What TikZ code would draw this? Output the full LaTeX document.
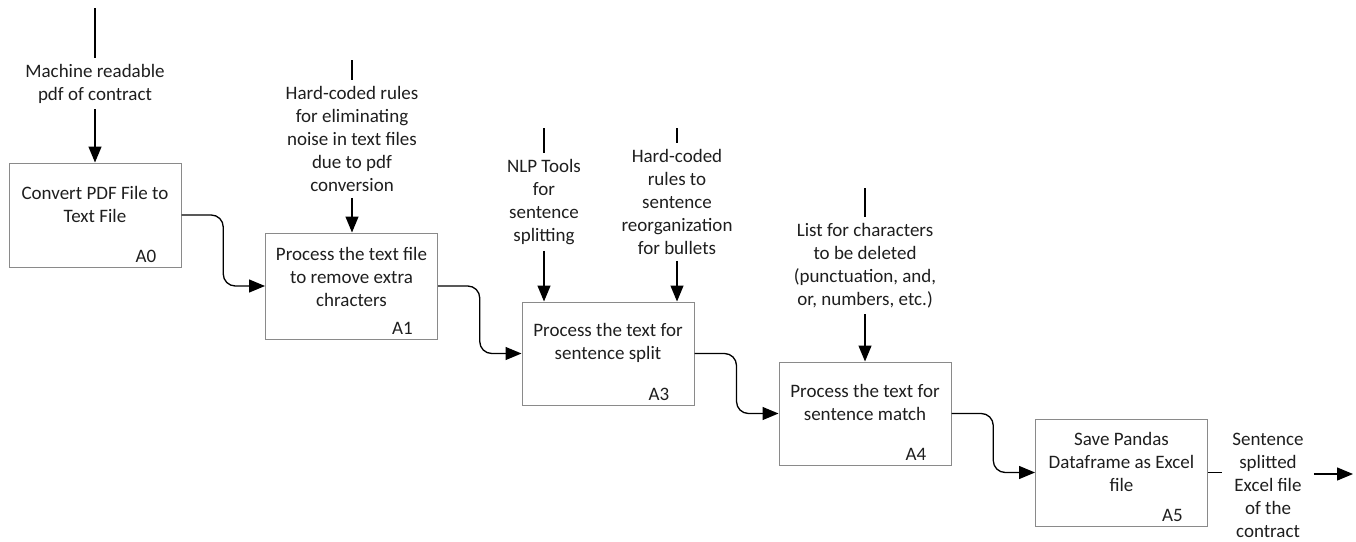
\documentclass[tikz,border=0pt]{standalone}
\usepackage{fontspec}
\setmainfont{Carlito}
\usetikzlibrary{arrows.meta,calc}
\definecolor{boxline}{HTML}{8A8A8A}
\definecolor{ink}{HTML}{1E1E1E}
\begin{document}
\begin{tikzpicture}[x=1pt,y=-1pt,
  font=\fontsize{19}{23}\selectfont,
  box/.style={draw=boxline,line width=1pt,minimum width=172pt,inner sep=0pt},
  boxtext/.style={align=center,text=ink,inner sep=0pt},
  tag/.style={anchor=east,text=ink,inner sep=0pt},
  lbl/.style={align=center,text=ink,inner xsep=10pt,inner ysep=6pt},
  feed/.style={draw=black,line width=1.3pt},
  flow/.style={feed,-{Triangle[length=16pt,width=13pt]}},
  stepflow/.style={flow,rounded corners=12pt}
]
\useasboundingbox (0,0) rectangle (1356,541);

% activity boxes
\node[box,minimum height=104pt] (a0) at (95,215) {};
\node[box,minimum height=106pt] (a1) at (351.5,286) {};
\node[box,minimum height=103pt] (a3) at (608,353.5) {};
\node[box,minimum height=103pt] (a4) at (865,413.5) {};
\node[box,minimum height=107pt] (a5) at (1121.5,472.5) {};

\node[boxtext] at ([yshift=-42pt]a0.north) {Convert PDF File to\\Text File};
\node[boxtext] at ([yshift=-44pt]a1.north) {Process the text file\\to remove extra\\chracters};
\node[boxtext] at ([yshift=-41pt]a3.north) {Process the text for\\sentence split};
\node[boxtext] at ([yshift=-41pt]a4.north) {Process the text for\\sentence match};
\node[boxtext] at ([yshift=-43pt]a5.north) {Save Pandas\\Dataframe as Excel\\file};

\node[tag] at ([xshift=-25pt,yshift=11pt]a0.south east) {A0};
\node[tag] at ([xshift=-25pt,yshift=11pt]a1.south east) {A1};
\node[tag] at ([xshift=-25pt,yshift=11pt]a3.south east) {A3};
\node[tag] at ([xshift=-25pt,yshift=11pt]a4.south east) {A4};
\node[tag] at ([xshift=-25pt,yshift=11pt]a5.south east) {A5};

% inputs and controls from above
\node[lbl] (i0) at (95,83.5) {Machine readable\\pdf of contract};
\node[lbl] (i1) at (352,139) {Hard-coded rules\\for eliminating\\noise in text files\\due to pdf\\conversion};
\node[lbl] (i3a) at (544,202) {NLP Tools\\for\\sentence\\splitting};
\node[lbl] (i3b) at (677,202) {Hard-coded\\rules to\\sentence\\reorganization\\for bullets};
\node[lbl] (i4) at (865,265.5) {List for characters\\to be deleted\\(punctuation, and,\\or, numbers, etc.)};

\coordinate (s0) at (95,8);
\coordinate (s1) at (352,60);
\coordinate (s3a) at (544,128);
\coordinate (s3b) at (677,128);
\coordinate (s4) at (865,188);

\draw[feed] (s0) -- (i0);
\draw[feed] (s1) -- (i1);
\draw[feed] (s3a) -- (i3a);
\draw[feed] (s3b) -- (i3b);
\draw[feed] (s4) -- (i4);

\draw[flow] (i0) -- (i0 |- a0.north);
\draw[flow] (i1) -- (i1 |- a1.north);
\draw[flow] (i3a) -- (i3a |- a3.north);
\draw[flow] (i3b) -- (i3b |- a3.north);
\draw[flow] (i4) -- (i4 |- a4.north);

% flow between activities
\draw[stepflow] (a0.east) -| ($(a0.east)!0.5!(a1.west)$) |- (a1.west);
\draw[stepflow] (a1.east) -| ($(a1.east)!0.5!(a3.west)$) |- (a3.west);
\draw[stepflow] (a3.east) -| ($(a3.east)!0.5!(a4.west)$) |- (a4.west);
\draw[stepflow] (a4.east) -| ($(a4.east)!0.5!(a5.west)$) |- (a5.west);

% final output
\node[lbl] (out) at (1268,485) {Sentence\\splitted\\Excel file\\of the\\contract};
\coordinate (end) at (1353,474);
\draw[feed] (a5.east) -- (a5.east -| out.west);
\draw[flow] (out.east |- end) -- (end);
\end{tikzpicture}
\end{document}
